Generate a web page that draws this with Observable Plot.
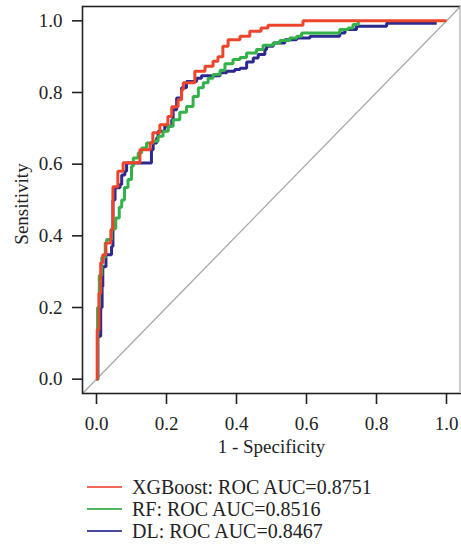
<!DOCTYPE html>
<html><head><meta charset="utf-8">
<script src="https://cdn.jsdelivr.net/npm/d3@7"></script>
<script src="https://cdn.jsdelivr.net/npm/@observablehq/plot@0.6"></script>
<style>
body{margin:0;background:#fff;}
#chart svg{display:block;}
#legend{font-family:"Liberation Serif",serif;font-size:20px;color:#222;margin-left:87px;}
.row{display:flex;align-items:center;height:22px;line-height:22px;white-space:nowrap;}
.sw{width:35px;height:1.5px;margin-right:10px;}
</style></head><body><div id="chart"></div><div id="legend"></div>
<script>
const xTicks = [0, 0.2, 0.4, 0.6, 0.8, 1.0];
const yTicks = [0, 0.2, 0.4, 0.6, 0.8, 1.0];
const xDomain = [-0.04, 1.04];
const yDomain = [-0.04, 1.04];
const models = ["XGBoost", "RF", "DL"];
const aucs = [0.8751, 0.8516, 0.8467];
const colors = ["#ec452c", "#33b24a", "#2c2a8e"];
const legendColors = ["#f06a55", "#4cb860", "#4a4aa0"];

const xgbFpr = [0, 0.002, 0.007, 0.012, 0.018, 0.027, 0.041, 0.047, 0.061, 0.076, 0.124, 0.153, 0.161, 0.181, 0.204, 0.215, 0.233, 0.243, 0.248, 0.281, 0.31, 0.333, 0.347, 0.361, 0.376, 0.41, 0.438, 0.47, 0.49, 0.59, 1.0];
const xgbTpr = [0, 0.138, 0.24, 0.325, 0.347, 0.38, 0.417, 0.537, 0.58, 0.604, 0.64, 0.66, 0.688, 0.71, 0.733, 0.76, 0.78, 0.808, 0.827, 0.859, 0.873, 0.887, 0.9, 0.929, 0.947, 0.957, 0.971, 0.98, 0.988, 1.0, 1.0];

const rfFpr = [0, 0.003, 0.008, 0.015, 0.025, 0.029, 0.043, 0.055, 0.065, 0.072, 0.08, 0.09, 0.1, 0.105, 0.119, 0.129, 0.143, 0.162, 0.176, 0.19, 0.205, 0.219, 0.238, 0.257, 0.276, 0.291, 0.305, 0.319, 0.333, 0.353, 0.367, 0.39, 0.41, 0.429, 0.457, 0.476, 0.505, 0.524, 0.552, 0.572, 0.586, 0.686, 0.695, 0.719, 0.733, 0.748];
const rfTpr = [0, 0.2, 0.29, 0.34, 0.38, 0.39, 0.42, 0.45, 0.48, 0.5, 0.535, 0.557, 0.594, 0.617, 0.631, 0.645, 0.659, 0.664, 0.678, 0.692, 0.706, 0.724, 0.745, 0.761, 0.789, 0.813, 0.827, 0.84, 0.85, 0.862, 0.88, 0.892, 0.898, 0.91, 0.92, 0.932, 0.938, 0.945, 0.952, 0.957, 0.966, 0.966, 0.976, 0.98, 0.99, 1.0];

const dlFpr = [0, 0.004, 0.012, 0.016, 0.018, 0.027, 0.043, 0.047, 0.053, 0.067, 0.072, 0.081, 0.086, 0.157, 0.162, 0.172, 0.176, 0.195, 0.215, 0.219, 0.229, 0.243, 0.257, 0.286, 0.3, 0.353, 0.372, 0.395, 0.41, 0.429, 0.448, 0.462, 0.481, 0.486, 0.505, 0.538, 0.572, 0.61, 0.695, 0.71, 0.743, 0.829, 0.972];
const dlTpr = [0, 0.12, 0.2, 0.258, 0.314, 0.347, 0.37, 0.5, 0.534, 0.543, 0.57, 0.58, 0.603, 0.64, 0.659, 0.674, 0.692, 0.706, 0.724, 0.752, 0.785, 0.813, 0.831, 0.84, 0.847, 0.855, 0.859, 0.864, 0.868, 0.885, 0.896, 0.906, 0.92, 0.929, 0.938, 0.947, 0.952, 0.957, 0.966, 0.976, 0.985, 0.993, 0.993];

const toRows = (fpr, tpr, model) => fpr.map((f, i) => ({model, fpr: f, tpr: tpr[i]}));
const xgb = toRows(xgbFpr, xgbTpr, "XGBoost");
const rf = toRows(rfFpr, rfTpr, "RF");
const dl = toRows(dlFpr, dlTpr, "DL");
const diag = [{x1: xDomain[0], y1: yDomain[0], x2: xDomain[1], y2: yDomain[1]}];

const lineOpts = (c) => ({x: "fpr", y: "tpr", stroke: c, strokeWidth: 3, curve: "step-after", strokeLinejoin: "miter", strokeLinecap: "butt"});

const plot = Plot.plot({
  width: 461,
  height: 476,
  marginLeft: 82,
  marginRight: 1,
  marginTop: 6,
  marginBottom: 83,
  style: {fontFamily: "Liberation Serif, serif", fontSize: "19px", color: "#222", background: "#fff"},
  x: {domain: xDomain, axis: null},
  y: {domain: yDomain, axis: null},
  marks: [
    Plot.link(diag, {x1: "x1", y1: "y1", x2: "x2", y2: "y2", stroke: "#a8a8a8", strokeWidth: 1.3}),
    Plot.line(dl, lineOpts(colors[2])),
    Plot.line(rf, lineOpts(colors[1])),
    Plot.line(xgb, lineOpts(colors[0])),
    Plot.frame({stroke: "#222", strokeWidth: 1.6}),
    Plot.ruleX([xDomain[1]], {stroke: "#d4d4d4", strokeWidth: 2}),
    Plot.axisX({ticks: xTicks, tickFormat: d3.format(".1f"), tickSize: 11, tickPadding: 12, strokeWidth: 1.6, stroke: "#222", label: null, fontSize: 19, fill: "#222"}),
    Plot.axisY({ticks: yTicks, tickFormat: d3.format(".1f"), tickSize: 10, tickPadding: 10, strokeWidth: 1.6, stroke: "#222", label: null, fontSize: 19, fill: "#222"}),
    Plot.text(["1 - Specificity"], {frameAnchor: "bottom", dy: 59, lineAnchor: "bottom", textAnchor: "middle", fontSize: 19, fill: "#222"}),
    Plot.text(["Sensitivity"], {frameAnchor: "left", dx: -55, dy: 4, rotate: -90, lineAnchor: "bottom", textAnchor: "middle", fontSize: 19, fill: "#222"})
  ]
});
document.getElementById("chart").appendChild(plot);

const legend = document.getElementById("legend");
models.forEach((m, i) => {
  const row = document.createElement("div");
  row.className = "row";
  const sw = document.createElement("span");
  sw.className = "sw";
  sw.style.background = legendColors[i];
  const t = document.createElement("span");
  t.textContent = `${m}: ROC AUC=${aucs[i].toFixed(4)}`;
  row.appendChild(sw);
  row.appendChild(t);
  legend.appendChild(row);
});
</script></body></html>
